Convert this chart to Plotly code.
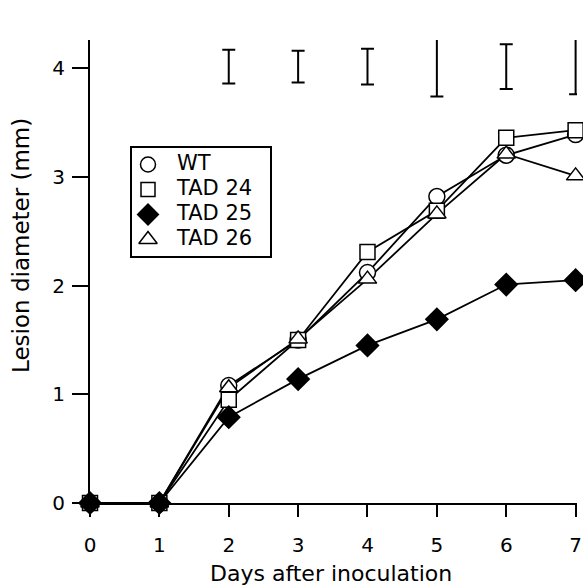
import plotly.graph_objects as go

days = [0, 1, 2, 3, 4, 5, 6, 7]
wt = [0, 0, 1.08, 1.50, 2.12, 2.82, 3.20, 3.39]
tad24 = [0, 0, 0.95, 1.50, 2.31, 2.69, 3.36, 3.43]
tad25 = [0, 0, 0.79, 1.14, 1.45, 1.69, 2.01, 2.05]
tad26 = [0, 0, 1.06, 1.51, 2.06, 2.66, 3.21, 3.01]

err_days = [2, 3, 4, 5, 6, 7]
err_center = [4.015, 4.015, 4.015, 4.01, 4.015, 4.025]
err_half = [0.155, 0.145, 0.165, 0.27, 0.205, 0.265]

x_ticks = [0, 1, 2, 3, 4, 5, 6, 7]
y_ticks = [0, 1, 2, 3, 4]

names = ["WT", "TAD 24", "TAD 25", "TAD 26"]
values = [wt, tad24, tad25, tad26]
symbols = ["circle", "square", "diamond", "triangle-up"]
sizes = [16, 15, 17, 16]
fills = ["white", "white", "black", "white"]

fig = go.Figure()
for vals in values:
    fig.add_trace(go.Scatter(
        x=days, y=vals, mode="lines", showlegend=False,
        line=dict(color="black", width=1.8), cliponaxis=False,
    ))
# open symbols first, filled diamond drawn on top
draw_order = [0, 1, 3, 2]
for i in draw_order:
    fig.add_trace(go.Scatter(
        x=days, y=values[i], name=names[i], mode="markers", showlegend=False,
        marker=dict(symbol=symbols[i], size=sizes[i], color=fills[i],
                    opacity=1, line=dict(color="black", width=1.5)),
        cliponaxis=False,
    ))

fig.add_trace(go.Scatter(
    x=err_days, y=err_center, mode="markers", showlegend=False,
    marker=dict(size=1, color="rgba(0,0,0,0)"),
    error_y=dict(type="data", array=err_half, symmetric=True, color="black",
                 thickness=2, width=6.5),
    cliponaxis=False,
))

# legend (keys and labels) drawn on a hidden axis pair inside the box
idx = list(range(len(names)))
key_sizes = [15, 14, 16, 16]
for i in idx:
    fig.add_trace(go.Scatter(
        x=[17], y=[idx[i]], mode="markers", xaxis="x2", yaxis="y2",
        showlegend=False, hoverinfo="skip", cliponaxis=False, opacity=1,
        marker=dict(symbol=symbols[i], size=key_sizes[i], color=fills[i],
                    opacity=1, line=dict(color="black", width=1.5)),
    ))
fig.add_trace(go.Scatter(
    x=[46] * len(names), y=idx, mode="text", text=names,
    textposition="middle right", xaxis="x2", yaxis="y2",
    showlegend=False, hoverinfo="skip", cliponaxis=False,
    textfont=dict(size=21, family="DejaVu Sans, Verdana, sans-serif",
                  color="black"),
))

W, H = 583, 585
L, R, T, B = 90, 6, 40, 82
pw, ph = W - L - R, H - T - B


def px(X):
    return (X - L) / pw


def py(Y):
    return (H - B - Y) / ph


box = (131, 271, 147, 257)  # left, right, top, bottom (pixels)

font = "DejaVu Sans, Verdana, sans-serif"
fig.update_layout(
    width=W, height=H,
    margin=dict(l=L, r=R, t=T, b=B),
    paper_bgcolor="white", plot_bgcolor="rgba(0,0,0,0)",
    font=dict(family=font, size=20, color="black"),
    showlegend=False,
    xaxis=dict(range=[0, 7.02], tickvals=x_ticks, showline=True,
               linecolor="black", linewidth=2, ticks="outside", ticklen=12,
               tickwidth=2, tickcolor="black", showgrid=False, zeroline=False,
               automargin=False, ticklabelstandoff=11,
               ticklabeloverflow="allow", tickfont=dict(size=20)),
    yaxis=dict(range=[0, 4.26], tickvals=y_ticks, showline=True,
               linecolor="black", linewidth=2, ticks="outside", ticklen=16,
               tickwidth=2, tickcolor="black", showgrid=False, zeroline=False,
               automargin=False, ticklabelstandoff=3,
               ticklabeloverflow="allow", tickfont=dict(size=20)),
    xaxis2=dict(domain=[px(box[0]), px(box[1])], range=[0, box[1] - box[0]],
                anchor="y2", visible=False, fixedrange=True),
    yaxis2=dict(domain=[py(box[3]), py(box[2])], range=[3.7, -0.7],
                anchor="x2", visible=False, fixedrange=True),
    shapes=[dict(type="rect", xref="paper", yref="paper",
                 x0=px(box[0]), x1=px(box[1]), y0=py(box[3]), y1=py(box[2]),
                 line=dict(color="black", width=2), layer="below")],
    annotations=[
        dict(text="Days after inoculation", xref="paper", yref="paper",
             x=px(331), y=py(573), xanchor="center", yanchor="middle",
             showarrow=False, font=dict(size=22)),
        dict(text="Lesion diameter (mm)", xref="paper", yref="paper",
             x=px(21), y=py(246), xanchor="center", yanchor="middle",
             textangle=-90, showarrow=False, font=dict(size=23)),
    ],
)

fig.write_html(
    "out.html",
    config={"displayModeBar": False},
    post_script="document.body.style.margin='0';"
                "document.body.style.overflow='hidden';",
)
